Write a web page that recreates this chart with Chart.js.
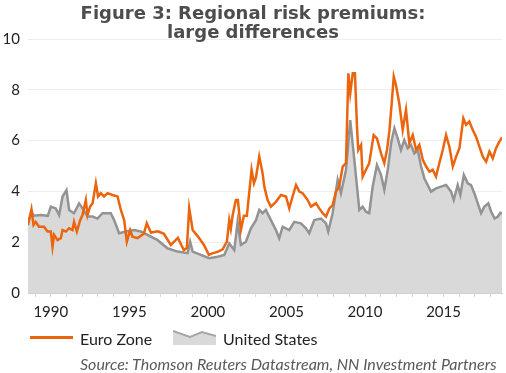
<!DOCTYPE html>
<html><head><meta charset="utf-8">
<script src="https://cdn.jsdelivr.net/npm/chart.js@4.4.1/dist/chart.umd.min.js"></script>
<style>
html,body{margin:0;padding:0;background:#fff;}
#wrap{position:relative;width:506px;height:373px;overflow:hidden;background:#fff;}
#c{position:absolute;left:0;top:0;}
.t{position:absolute;white-space:nowrap;}
#title{left:0;width:506px;top:4px;text-align:center;font:700 18px/18.7px "DejaVu Sans";color:#4d4d4d;}
.lg{font:400 16px/16px Lato;color:#222;top:331px;}
#src{left:80px;top:356px;font:italic 400 16px/16px Lato;color:#595959;}
#euroKey{position:absolute;left:30px;top:336px;width:43px;height:2.5px;background:#ea650d;}
#usKey{position:absolute;left:173px;top:328px;}
</style></head>
<body>
<div id="wrap">
<canvas id="c" width="506" height="373"></canvas>
<div id="title" class="t">Figure 3: Regional risk premiums:<br>large differences</div>
<div id="euroKey"></div>
<div class="t lg" style="left:80px">Euro Zone</div>
<svg id="usKey" width="43" height="17" viewBox="0 0 43 17"><polygon points="0,3 17,9 29,4 43,8 43,17 0,17" fill="#d9d9d9"/><polyline points="0,3 17,9 29,4 43,8" fill="none" stroke="#a6a6a6" stroke-width="2"/></svg>
<div class="t lg" style="left:223px">United States</div>
<div id="src" class="t">Source: Thomson Reuters Datastream, NN Investment Partners</div>
</div>
<script>
const euroYears=[1988.55,1988.77,1988.90,1989.04,1989.25,1989.57,1989.79,1990.00,1990.11,1990.21,1990.43,1990.64,1990.75,1990.96,1991.17,1991.38,1991.48,1991.66,1991.87,1992.02,1992.23,1992.34,1992.50,1992.66,1992.87,1993.01,1993.18,1993.39,1993.61,1993.93,1994.25,1994.46,1994.67,1994.84,1995.05,1995.20,1995.52,1995.92,1996.11,1996.37,1996.82,1997.20,1997.64,1998.09,1998.47,1998.66,1998.81,1999.03,1999.36,1999.75,2000.06,2000.32,2000.62,2000.94,2001.21,2001.36,2001.46,2001.57,2001.78,2001.91,2002.10,2002.29,2002.48,2002.78,2002.93,2003.06,2003.27,2003.48,2003.59,2003.80,2004.01,2004.33,2004.65,2004.97,2005.18,2005.39,2005.61,2005.82,2006.03,2006.35,2006.56,2006.88,2007.09,2007.31,2007.52,2007.73,2007.94,2008.15,2008.36,2008.58,2008.79,2008.94,2009.06,2009.22,2009.36,2009.49,2009.57,2009.75,2009.85,2010.06,2010.27,2010.55,2010.76,2011.02,2011.23,2011.40,2011.55,2011.70,2011.83,2011.97,2012.18,2012.40,2012.61,2012.82,2013.04,2013.25,2013.46,2013.68,2013.89,2014.10,2014.31,2014.52,2014.73,2014.95,2015.16,2015.37,2015.59,2015.80,2016.01,2016.26,2016.43,2016.64,2016.86,2017.07,2017.28,2017.50,2017.71,2017.92,2018.13,2018.34,2018.55,2018.72];
const euroValues=[2.68,3.30,2.68,2.80,2.61,2.61,2.42,2.42,1.82,2.29,2.08,2.16,2.48,2.42,2.55,2.48,2.80,2.42,2.87,3.07,3.66,3.07,3.40,3.53,4.32,3.80,3.93,3.80,3.93,3.86,3.80,3.27,2.87,2.02,2.48,2.22,2.16,2.33,2.75,2.38,2.43,2.33,1.89,2.17,1.69,1.77,3.34,2.48,2.23,1.89,1.50,1.57,1.62,1.72,2.02,2.87,2.53,3.04,3.66,3.66,2.48,3.04,3.04,4.85,4.32,4.55,5.37,4.72,4.19,3.66,3.40,3.59,3.86,3.80,3.33,3.80,4.25,3.99,3.93,3.66,3.40,3.53,3.33,3.14,3.01,3.33,3.46,3.99,4.19,4.98,5.11,8.65,7.86,8.65,8.65,6.55,5.63,5.83,4.58,4.85,5.11,6.22,6.09,5.50,5.11,5.63,6.36,7.47,8.52,8.19,7.47,6.42,7.21,5.90,6.22,5.63,5.83,5.24,4.98,4.78,4.85,4.58,5.11,5.63,6.22,5.76,4.98,5.37,5.70,6.88,6.62,6.75,6.42,6.15,5.76,5.37,5.17,5.57,5.30,5.70,5.96,6.13];
const usYears=[1988.55,1988.83,1988.92,1989.36,1989.81,1990.00,1990.32,1990.53,1990.75,1991.00,1991.17,1991.48,1991.80,1992.02,1992.34,1992.66,1992.97,1993.29,1993.82,1994.03,1994.35,1994.78,1995.31,1995.73,1996.16,1996.80,1997.43,1998.07,1998.71,1998.87,1999.03,1999.55,2000.08,2000.62,2001.04,2001.36,2001.68,2001.89,2002.10,2002.42,2002.74,2003.06,2003.27,2003.48,2003.69,2004.01,2004.33,2004.54,2004.76,2005.18,2005.50,2005.92,2006.24,2006.45,2006.77,2007.20,2007.52,2007.66,2007.94,2008.26,2008.47,2008.79,2009.06,2009.32,2009.49,2009.64,2009.85,2010.06,2010.27,2010.49,2010.76,2011.02,2011.23,2011.45,2011.66,2011.87,2012.08,2012.29,2012.50,2012.72,2012.93,2013.14,2013.36,2013.57,2013.78,2013.99,2014.20,2014.52,2014.84,2015.16,2015.48,2015.65,2015.90,2016.07,2016.29,2016.54,2016.75,2016.96,2017.18,2017.39,2017.60,2017.85,2018.03,2018.25,2018.46,2018.62,2018.72];
const usValues=[2.85,3.14,3.04,3.07,3.04,3.40,3.33,3.07,3.80,4.05,3.27,3.14,3.53,3.33,3.01,3.01,2.93,3.14,3.14,2.87,2.35,2.42,2.48,2.42,2.29,2.08,1.76,1.63,1.57,2.02,1.63,1.50,1.37,1.43,1.50,1.95,1.69,2.80,1.89,2.02,2.55,2.87,3.27,3.14,3.27,2.87,2.48,2.16,2.61,2.48,2.80,2.74,2.55,2.35,2.87,2.93,2.74,2.42,3.14,4.45,3.93,4.85,6.81,5.24,4.19,3.27,3.40,3.20,3.14,4.19,5.04,4.65,4.06,4.85,5.90,6.49,6.09,5.63,6.02,5.70,5.83,5.50,5.63,4.98,4.51,4.25,3.99,4.12,4.19,4.25,3.99,3.66,4.25,3.86,4.65,4.32,4.25,3.93,3.53,3.14,3.40,3.53,3.20,2.93,3.01,3.16,3.14];
const xLabelYears=[1990,1995,2000,2005,2010,2015];
const yTickValues=[0,2,4,6,8,10];

const pts=(xs,ys)=>xs.map((x,i)=>({x:x,y:ys[i]}));
new Chart(document.getElementById('c'),{
  type:'line',
  data:{datasets:[
    {label:'Euro Zone',data:pts(euroYears,euroValues),borderColor:'#ea650d',borderWidth:2.5,pointRadius:0,fill:false,tension:0},
    {label:'United States',data:pts(usYears,usValues),borderColor:'#939393',backgroundColor:'#d9d9d9',borderWidth:2.5,pointRadius:0,fill:'origin',tension:0}
  ]},
  options:{
    responsive:false,animation:false,devicePixelRatio:1,
    layout:{padding:{top:39,right:4,left:0,bottom:0}},
    plugins:{legend:{display:false},tooltip:{enabled:false}},
    scales:{
      x:{type:'linear',min:1988.55,max:2018.72,
        ticks:{stepSize:1,autoSkip:false,includeBounds:false,maxRotation:0,padding:6,color:'#222',font:{family:'Lato',size:15},
          callback:v=>{const r=Math.round(v);return (Math.abs(v-r)<1e-6&&xLabelYears.includes(r))?String(r):'';}},
        grid:{drawOnChartArea:false,drawTicks:true,tickLength:4,color:'#d9d9d9'},
        border:{color:'#d0d0d0'},
        afterFit:s=>{s.height=80;}
      },
      y:{min:0,max:10,
        afterBuildTicks:s=>{s.ticks=yTickValues.map(v=>({value:v}));},
        ticks:{padding:8,color:'#222',font:{family:'Lato',size:15}},
        grid:{drawTicks:false,color:'#eeeeee'},
        border:{display:false},
        afterFit:s=>{s.width=28;}
      }
    }
  }
});
</script>
</body></html>
